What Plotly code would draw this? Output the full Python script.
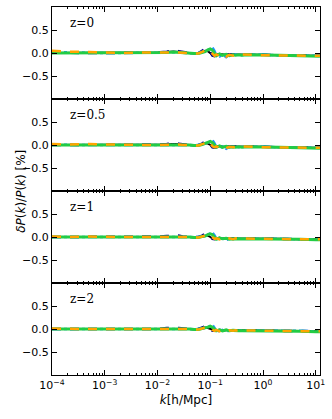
import plotly.graph_objects as go
from plotly.subplots import make_subplots

# wavenumbers [h/Mpc]
k = [1e-4, 2e-4, 5e-4, 1e-3, 2e-3, 5e-3, 0.01, 0.015, 0.02, 0.025, 0.03, 0.04,
     0.05, 0.06, 0.07, 0.08, 0.09, 0.1, 0.11, 0.12, 0.13, 0.15, 0.17, 0.2,
     0.23, 0.27, 0.3, 0.35, 0.4, 0.5, 0.7, 1.0, 2.0, 5.0, 10.0, 12.0]

redshifts = ["z=0", "z=0.5", "z=1", "z=2"]

# relative difference [%], one list per series and redshift
black_z0 = [0.0, 0.0, 0.0, 0.0, 0.0, 0.0, 0.01, 0.02, 0.03, 0.02, 0.01, 0.0, -0.01, 0.0, 0.02, 0.05, 0.04, 0.0, -0.04, -0.05, -0.03, -0.02, -0.03, -0.04, -0.03, -0.04, -0.03, -0.03, -0.04, -0.03, -0.04, -0.04, -0.05, -0.06, -0.06, -0.06]
navy_z0 = [0.01, 0.0, 0.0, 0.0, 0.0, 0.0, 0.01, 0.03, 0.05, 0.04, 0.02, 0.0, -0.02, 0.0, 0.04, 0.09, 0.08, 0.02, -0.06, -0.07, -0.04, -0.02, -0.04, -0.05, -0.03, -0.04, -0.03, -0.03, -0.04, -0.03, -0.04, -0.04, -0.05, -0.06, -0.06, -0.06]
cyan_z0 = [0.02, 0.01, 0.0, 0.0, 0.0, 0.0, 0.0, 0.01, 0.02, 0.01, 0.01, 0.0, -0.01, 0.0, 0.02, 0.03, 0.06, 0.1, 0.12, 0.05, -0.05, -0.08, -0.03, -0.09, -0.04, -0.06, -0.03, -0.05, -0.04, -0.03, -0.03, -0.04, -0.05, -0.05, -0.06, -0.06]
green_z0 = [0.0, 0.0, 0.0, 0.0, 0.0, 0.0, 0.0, 0.01, 0.02, 0.01, 0.0, 0.0, -0.01, -0.01, 0.01, 0.03, 0.07, 0.09, 0.06, 0.0, -0.06, -0.02, -0.05, -0.03, -0.06, -0.04, -0.05, -0.04, -0.05, -0.04, -0.04, -0.05, -0.05, -0.06, -0.07, -0.07]
orange_z0 = [0.05, 0.03, 0.02, 0.01, 0.0, 0.01, 0.0, 0.01, 0.02, 0.01, 0.0, 0.0, -0.01, -0.01, 0.02, 0.05, 0.08, 0.03, -0.03, -0.06, -0.03, -0.07, -0.02, -0.08, -0.04, -0.06, -0.04, -0.05, -0.03, -0.04, -0.04, -0.05, -0.05, -0.05, -0.06, -0.06]

black_z05 = [0.0, 0.0, 0.0, 0.0, 0.0, 0.0, 0.01, 0.01, 0.02, 0.02, 0.01, 0.0, -0.01, 0.0, 0.02, 0.04, 0.03, 0.0, -0.03, -0.04, -0.03, -0.02, -0.03, -0.04, -0.03, -0.03, -0.03, -0.03, -0.04, -0.03, -0.04, -0.04, -0.05, -0.05, -0.06, -0.06]
navy_z05 = [0.0, 0.0, 0.0, 0.0, 0.0, 0.0, 0.01, 0.02, 0.04, 0.03, 0.02, 0.0, -0.02, 0.0, 0.03, 0.08, 0.07, 0.01, -0.05, -0.06, -0.04, -0.02, -0.03, -0.04, -0.03, -0.04, -0.03, -0.03, -0.04, -0.03, -0.04, -0.04, -0.05, -0.05, -0.06, -0.06]
cyan_z05 = [0.01, 0.0, 0.0, 0.0, 0.0, 0.0, 0.0, 0.01, 0.01, 0.01, 0.0, 0.0, -0.01, 0.0, 0.02, 0.03, 0.05, 0.09, 0.11, 0.04, -0.04, -0.07, -0.03, -0.08, -0.04, -0.05, -0.03, -0.05, -0.04, -0.03, -0.03, -0.04, -0.05, -0.05, -0.06, -0.06]
green_z05 = [0.0, 0.0, 0.0, 0.0, 0.0, 0.0, 0.0, 0.01, 0.01, 0.01, 0.0, 0.0, -0.01, -0.01, 0.01, 0.03, 0.06, 0.08, 0.05, 0.0, -0.05, -0.02, -0.05, -0.03, -0.05, -0.04, -0.05, -0.04, -0.05, -0.04, -0.04, -0.05, -0.05, -0.06, -0.07, -0.07]
orange_z05 = [0.02, 0.01, 0.02, 0.01, 0.0, 0.0, 0.0, 0.01, 0.01, 0.01, 0.0, 0.0, -0.01, -0.01, 0.02, 0.04, 0.09, 0.04, -0.03, -0.05, -0.03, -0.06, -0.02, -0.07, -0.04, -0.05, -0.04, -0.05, -0.03, -0.04, -0.04, -0.05, -0.05, -0.05, -0.06, -0.06]

black_z1 = [0.0, 0.0, 0.0, 0.0, 0.0, 0.0, 0.0, 0.01, 0.01, 0.01, 0.01, 0.0, -0.01, 0.0, 0.01, 0.03, 0.03, 0.0, -0.03, -0.03, -0.02, -0.02, -0.03, -0.03, -0.03, -0.03, -0.03, -0.03, -0.03, -0.03, -0.04, -0.04, -0.04, -0.05, -0.05, -0.05]
navy_z1 = [0.0, 0.0, 0.0, 0.0, 0.0, 0.0, 0.01, 0.02, 0.03, 0.03, 0.01, 0.0, -0.01, 0.0, 0.03, 0.07, 0.06, 0.01, -0.04, -0.05, -0.03, -0.02, -0.03, -0.04, -0.03, -0.03, -0.03, -0.03, -0.03, -0.03, -0.04, -0.04, -0.04, -0.05, -0.05, -0.05]
cyan_z1 = [0.0, 0.0, 0.0, 0.0, 0.0, 0.0, 0.0, 0.01, 0.01, 0.01, 0.0, 0.0, -0.01, 0.0, 0.01, 0.02, 0.05, 0.08, 0.1, 0.04, -0.03, -0.06, -0.03, -0.07, -0.03, -0.05, -0.03, -0.04, -0.04, -0.03, -0.03, -0.04, -0.04, -0.05, -0.05, -0.05]
green_z1 = [0.0, 0.0, 0.0, 0.0, 0.0, 0.0, 0.0, 0.01, 0.01, 0.01, 0.0, 0.0, -0.01, -0.01, 0.01, 0.02, 0.05, 0.07, 0.05, 0.0, -0.05, -0.02, -0.04, -0.03, -0.05, -0.04, -0.04, -0.04, -0.04, -0.04, -0.04, -0.04, -0.05, -0.05, -0.06, -0.06]
orange_z1 = [0.01, 0.0, 0.01, 0.0, 0.0, 0.0, 0.0, 0.01, 0.01, 0.01, 0.0, 0.0, -0.01, -0.01, 0.01, 0.03, 0.07, 0.03, -0.02, -0.04, -0.03, -0.05, -0.02, -0.06, -0.03, -0.05, -0.03, -0.04, -0.03, -0.04, -0.04, -0.04, -0.05, -0.05, -0.05, -0.05]

black_z2 = [0.0, 0.0, 0.0, 0.0, 0.0, 0.0, 0.0, 0.01, 0.01, 0.01, 0.0, 0.0, -0.01, 0.0, 0.01, 0.03, 0.02, 0.0, -0.02, -0.03, -0.02, -0.02, -0.02, -0.03, -0.02, -0.03, -0.02, -0.03, -0.03, -0.03, -0.03, -0.03, -0.04, -0.04, -0.05, -0.05]
navy_z2 = [0.0, 0.0, 0.0, 0.0, 0.0, 0.0, 0.0, 0.02, 0.03, 0.02, 0.01, 0.0, -0.01, 0.0, 0.03, 0.06, 0.05, 0.01, -0.04, -0.04, -0.03, -0.02, -0.03, -0.03, -0.02, -0.03, -0.02, -0.03, -0.03, -0.03, -0.03, -0.03, -0.04, -0.04, -0.05, -0.05]
cyan_z2 = [0.0, 0.0, 0.0, 0.0, 0.0, 0.0, 0.0, 0.01, 0.01, 0.01, 0.0, 0.0, -0.01, 0.0, 0.01, 0.02, 0.04, 0.07, 0.09, 0.03, -0.03, -0.05, -0.02, -0.06, -0.03, -0.04, -0.03, -0.04, -0.03, -0.03, -0.03, -0.03, -0.04, -0.04, -0.05, -0.05]
green_z2 = [0.0, 0.0, 0.0, 0.0, 0.0, 0.0, 0.0, 0.01, 0.01, 0.01, 0.0, 0.0, -0.01, -0.01, 0.01, 0.02, 0.04, 0.06, 0.04, 0.0, -0.04, -0.02, -0.04, -0.02, -0.04, -0.03, -0.04, -0.04, -0.04, -0.04, -0.04, -0.04, -0.05, -0.05, -0.06, -0.06]
orange_z2 = [0.01, 0.0, 0.0, 0.0, 0.0, 0.0, 0.0, 0.01, 0.01, 0.01, 0.0, 0.0, -0.01, -0.01, 0.01, 0.03, 0.06, 0.03, -0.02, -0.04, -0.02, -0.05, -0.02, -0.05, -0.03, -0.04, -0.03, -0.04, -0.03, -0.03, -0.03, -0.04, -0.04, -0.05, -0.05, -0.05]

panels = [
    [black_z0, navy_z0, cyan_z0, green_z0, orange_z0],
    [black_z05, navy_z05, cyan_z05, green_z05, orange_z05],
    [black_z1, navy_z1, cyan_z1, green_z1, orange_z1],
    [black_z2, navy_z2, cyan_z2, green_z2, orange_z2],
]

# series styles: colour, width, dash
STYLES = [
    ("#000000", 2, "solid"),
    ("#00008b", 2.5, "dash"),
    ("#1e90ff", 2.5, "dashdot"),
    ("#22cc44", 3, "solid"),
    ("#ffa500", 2.5, "dash"),
]

FONT = "DejaVu Sans"

fig = make_subplots(rows=4, cols=1, shared_xaxes=True, vertical_spacing=0)

for row, series in enumerate(panels, start=1):
    for vals, (color, width, dash) in zip(series, STYLES):
        fig.add_trace(go.Scatter(
            x=k, y=vals, mode="lines",
            line=dict(color=color, width=width, dash=dash),
            showlegend=False
        ), row=row, col=1)

    fig.add_annotation(
        text=redshifts[row - 1], xref="x domain", yref="y domain",
        x=0.06, y=0.83, showarrow=False, xanchor="left", yanchor="middle",
        font=dict(family="DejaVu Serif", size=12, color="#000"),
        row=row, col=1
    )

major = [1e-4, 1e-3, 1e-2, 1e-1, 1e0, 1e1]
minor = [m * d for d in [1e-4, 1e-3, 1e-2, 1e-1, 1e0, 1e1] for m in range(2, 10)]

fig.update_xaxes(
    type="log", range=[-4, 1.08],
    tickmode="array", tickvals=major,
    ticktext=["10<sup>\u22124</sup>", "10<sup>\u22123</sup>", "10<sup>\u22122</sup>",
              "10<sup>\u22121</sup>", "10<sup>0</sup>", "10<sup>1</sup>"],
    ticks="inside", ticklen=5, tickcolor="#000",
    minor=dict(tickmode="array", tickvals=minor, ticks="inside", ticklen=2,
               tickcolor="#000", showgrid=False),
    showline=True, linecolor="#000", linewidth=1.2, mirror="allticks",
    showgrid=False, zeroline=False
)
fig.update_xaxes(title=dict(text="<i>k</i>[h/Mpc]", font=dict(size=12), standoff=4),
                 row=4, col=1)

fig.update_yaxes(
    range=[-1, 1], tickmode="array", tickvals=[-0.5, 0, 0.5],
    ticktext=["\u22120.5", "0.0", "0.5"],
    ticks="inside", ticklen=5, tickcolor="#000",
    showline=True, linecolor="#000", linewidth=1.2, mirror="allticks",
    showgrid=False, zeroline=False
)

fig.add_annotation(
    text="<i>\u03b4P</i>(<i>k</i>)/<i>P</i>(<i>k</i>) [%]",
    xref="paper", yref="paper", x=-0.15, y=0.5, textangle=-90,
    showarrow=False, font=dict(size=12, color="#000")
)

fig.update_layout(
    width=332, height=419,
    margin=dict(l=52, r=12, t=7, b=44),
    paper_bgcolor="white", plot_bgcolor="white",
    font=dict(family=FONT, size=11, color="#000")
)

# drop the browser's default body margin so the figure sits at the page corner
fig.write_html("out.html", config={"displayModeBar": False},
               post_script="document.body.style.margin='0';")
